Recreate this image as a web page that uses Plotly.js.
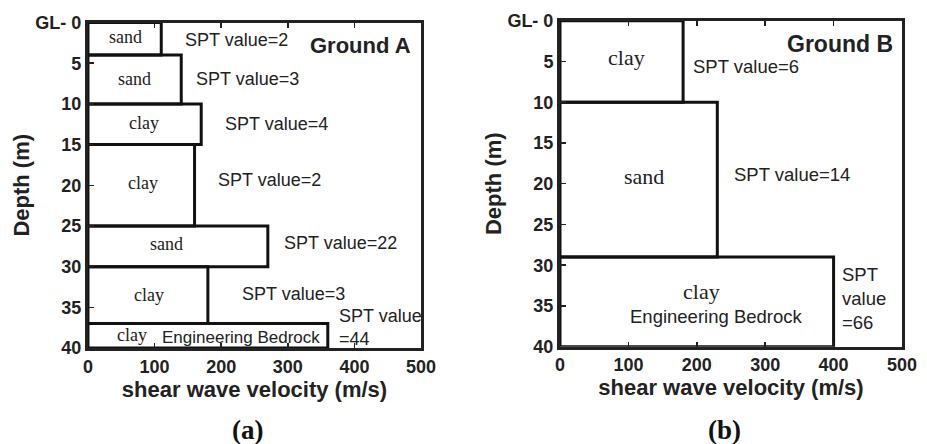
<!DOCTYPE html>
<html>
<head>
<meta charset="utf-8">
<script src="https://cdn.plot.ly/plotly-3.0.1.min.js"></script>
<style>
  html, body { margin: 0; padding: 0; background: #fff; }
  #chart { width: 927px; height: 444px; }
</style>
</head>
<body>
<div id="chart"></div>
<script>
// Depth axis ticks
const depthTicks = [0, 5, 10, 15, 20, 25, 30, 35, 40];
const depthTickLabels = ['GL- 0', '5', '10', '15', '20', '25', '30', '35', '40'];
const velocityTicks = [0, 100, 200, 300, 400, 500];

// Ground A soil profile (depth in m, shear wave velocity in m/s)
const groundATop = [0, 4, 10, 15, 25, 30, 37];
const groundABottom = [4, 10, 15, 25, 30, 37, 40];
const groundAVs = [110, 140, 170, 160, 270, 180, 360];
const groundASoil = ['sand', 'sand', 'clay', 'clay', 'sand', 'clay', 'clay'];
const groundASpt = [2, 3, 4, 2, 22, 3, 44];

// Ground B soil profile
const groundBTop = [0, 10, 29];
const groundBBottom = [10, 29, 40];
const groundBVs = [180, 230, 400];
const groundBSoil = ['clay', 'sand', 'clay'];
const groundBSpt = [6, 14, 66];

// Outline every layer as a closed rectangle from 0 to its Vs
function layerOutline(tops, bottoms, vs, xa, ya) {
  const x = [], y = [];
  for (let i = 0; i < vs.length; i++) {
    x.push(0, vs[i], vs[i], 0, 0, null);
    y.push(tops[i], tops[i], bottoms[i], bottoms[i], tops[i], null);
  }
  return {
    type: 'scatter', mode: 'lines', x: x, y: y, xaxis: xa, yaxis: ya,
    line: { color: '#111', width: 3 }, hoverinfo: 'skip', showlegend: false
  };
}

const sansFont = 'Liberation Sans, Arial, sans-serif';
const serifFont = 'Liberation Serif, Times New Roman, serif';

// Label placement per layer (x in m/s, y in m)
const aSoilPos = [[57, 1.8], [70, 6.9], [84, 12.3], [83, 19.7], [118, 27.2], [92, 33.5], [66, 38.4]];
const aSptPos = [[143, 2.1], [159, 6.95], [202, 12.5], [192, 19.4], [292, 27.1], [228, 33.4], [374, 37.5]];
const bSoilPos = [[97, 4.5], [123, 19.1], [207, 33.2]];
const bSptPos = [[192, 5.6], [251, 18.9], [409, 34.1]];

const annotations = [];
function addLabels(soil, spt, soilPos, sptPos, xr, yr, soilSize, sptSize, sptBreak) {
  soil.forEach((s, i) => {
    annotations.push({
      x: soilPos[i][0], y: soilPos[i][1], xref: xr, yref: yr, text: s,
      showarrow: false, xanchor: 'center', yanchor: 'middle',
      font: { family: serifFont, size: soilSize, color: '#222' }
    });
  });
  spt.forEach((v, i) => {
    const last = i === spt.length - 1;
    annotations.push({
      x: sptPos[i][0], y: sptPos[i][1], xref: xr, yref: yr,
      text: last ? sptBreak + v : 'SPT value=' + v,
      showarrow: false, xanchor: 'left', yanchor: 'middle', align: 'left',
      font: { family: sansFont, size: sptSize, color: '#222' }
    });
  });
}
addLabels(groundASoil, groundASpt, aSoilPos, aSptPos, 'x', 'y', 18, 18, 'SPT value<br>=');
addLabels(groundBSoil, groundBSpt, bSoilPos, bSptPos, 'x2', 'y2', 22, 18.5, 'SPT<br>value<br>=');

annotations.push(
  { x: 230, y: 38.65, xref: 'x', yref: 'y', text: 'Engineering Bedrock', showarrow: false,
    xanchor: 'center', yanchor: 'middle', font: { family: sansFont, size: 17, color: '#222' } },
  { x: 228, y: 36.3, xref: 'x2', yref: 'y2', text: 'Engineering Bedrock', showarrow: false,
    xanchor: 'center', yanchor: 'middle', font: { family: sansFont, size: 18.5, color: '#222' } },
  { x: 488, y: 2.85, xref: 'x', yref: 'y', text: 'Ground A', showarrow: false,
    xanchor: 'right', yanchor: 'middle', font: { family: sansFont, size: 22, weight: 'bold', color: '#222' } },
  { x: 490, y: 2.8, xref: 'x2', yref: 'y2', text: 'Ground B', showarrow: false,
    xanchor: 'right', yanchor: 'middle', font: { family: sansFont, size: 23, weight: 'bold', color: '#222' } },
  { x: 0.2675, y: 0.031, xref: 'paper', yref: 'paper', text: '(a)', showarrow: false,
    xanchor: 'center', yanchor: 'middle', font: { family: serifFont, size: 27, weight: 'bold', color: '#111' } },
  { x: 0.782, y: 0.031, xref: 'paper', yref: 'paper', text: '(b)', showarrow: false,
    xanchor: 'center', yanchor: 'middle', font: { family: serifFont, size: 27, weight: 'bold', color: '#111' } }
);

const tickFont = { family: sansFont, size: 18, weight: 'bold', color: '#222' };
const titleFont = { family: sansFont, size: 22, weight: 'bold', color: '#222' };

function xAxis(domain, anchor) {
  return {
    domain: domain, anchor: anchor, range: [0, 500], tickvals: velocityTicks,
    ticks: 'inside', ticklen: 5, tickwidth: 1.5, tickcolor: '#222',
    showline: true, linewidth: 3, linecolor: '#222', mirror: 'ticks',
    showgrid: false, zeroline: false, tickfont: tickFont,
    title: { text: 'shear wave velocity (m/s)', font: titleFont, standoff: 2 }
  };
}
function yAxis(domain, anchor) {
  return {
    domain: domain, anchor: anchor, range: [40, 0], tickvals: depthTicks, ticktext: depthTickLabels,
    ticks: 'inside', ticklen: 6, tickwidth: 1.5, tickcolor: '#222',
    showline: true, linewidth: 3, linecolor: '#222', mirror: true,
    showgrid: false, zeroline: false, tickfont: tickFont,
    title: { text: 'Depth (m)', font: titleFont, standoff: 0 }
  };
}

const layout = {
  width: 927, height: 444,
  margin: { l: 0, r: 0, t: 0, b: 0 },
  paper_bgcolor: '#fff', plot_bgcolor: '#fff',
  showlegend: false,
  xaxis: xAxis([0.0949, 0.4542], 'y'),
  yaxis: yAxis([0.2162, 0.9493], 'x'),
  xaxis2: xAxis([0.6041, 0.9730], 'y2'),
  yaxis2: yAxis([0.2191, 0.9534], 'x2'),
  annotations: annotations
};

const data = [
  layerOutline(groundATop, groundABottom, groundAVs, 'x', 'y'),
  layerOutline(groundBTop, groundBBottom, groundBVs, 'x2', 'y2')
];

Plotly.newPlot('chart', data, layout, { staticPlot: true });
</script>
</body>
</html>
